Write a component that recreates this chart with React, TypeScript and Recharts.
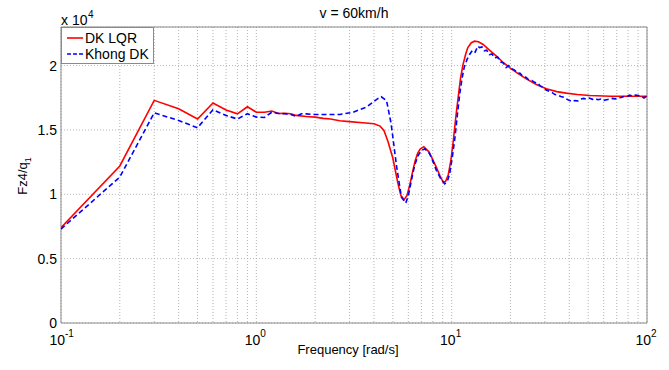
import React from "react";
import { LineChart, Line, XAxis, YAxis, CartesianGrid, ReferenceArea } from "recharts";

// Frequency [rad/s] and F/q values (x 10^4)
const lqrFreq = [
  0.1, 0.2, 0.3, 0.4, 0.5, 0.6, 0.7, 0.8, 0.9, 1.0, 1.1, 1.2, 1.3, 1.4, 1.5, 1.6, 1.8, 2.0,
  2.2, 2.4, 2.67, 3.0, 3.5, 4.0, 4.3, 4.5, 4.72, 5.0, 5.3, 5.5, 5.7, 5.9, 6.1, 6.3, 6.5,
  6.7, 6.9, 7.2, 7.65, 8.0, 8.35, 8.7, 9.03, 9.3, 9.6, 9.9, 10.2, 10.5, 10.8, 11.1, 11.4,
  11.8, 12.1, 12.6, 13.1, 13.7, 14.5, 15.6, 16.9, 18.2, 19.8, 21.8, 24.1, 27.0, 30.5, 34.5,
  38.6, 44.0, 50.9, 65, 80, 100,
];
const lqrValues = [
  0.74, 1.22, 1.73, 1.665, 1.585, 1.71, 1.655, 1.625, 1.68, 1.638, 1.638, 1.647, 1.628,
  1.63, 1.626, 1.613, 1.605, 1.6, 1.59, 1.585, 1.572, 1.565, 1.556, 1.548, 1.53, 1.496,
  1.41, 1.28, 1.09, 0.99, 0.958, 0.99, 1.07, 1.17, 1.26, 1.32, 1.352, 1.37, 1.33, 1.27,
  1.21, 1.145, 1.097, 1.1, 1.15, 1.26, 1.418, 1.6, 1.755, 1.9, 2.0, 2.09, 2.14, 2.178,
  2.19, 2.185, 2.164, 2.12, 2.075, 2.03, 1.985, 1.94, 1.897, 1.855, 1.82, 1.798, 1.786,
  1.776, 1.768, 1.762, 1.762, 1.762,
];

const khongFreq = [
  0.1, 0.2, 0.3, 0.4, 0.5, 0.6, 0.7, 0.8, 0.9, 1.0, 1.1, 1.2, 1.3, 1.4, 1.5, 1.6, 1.7, 1.8,
  2.0, 2.3, 2.67, 3.13, 3.66, 3.96, 4.2, 4.36, 4.64, 4.9, 5.22, 5.53, 5.82, 6.0, 6.22,
  6.45, 6.73, 7.0, 7.28, 7.71, 8.0, 8.35, 8.8, 9.21, 9.5, 9.77, 10.1, 10.4, 10.7, 11.0,
  11.3, 11.6, 12.0, 12.4, 12.8, 13.2, 13.6, 13.9, 14.3, 14.7, 15.1, 15.6, 16.1, 16.6, 17.2,
  17.8, 18.4, 19.0, 19.6, 20.3, 21.0, 21.7, 22.4, 23.2, 24.0, 24.8, 25.7, 26.6, 27.5, 28.5,
  29.5, 30.5, 31.6, 32.7, 33.8, 35.0, 36.2, 37.4, 38.7, 40.0, 41.4, 42.8, 44.3, 45.8, 47.4,
  49.0, 50.7, 52.5, 54.3, 56.2, 58.1, 60.1, 62.2, 64.3, 66.5, 68.8, 71.2, 73.7, 76.2, 78.8,
  81.5, 84.3, 87.2, 90.2, 93.3, 96.5, 100,
];
const khongValues = [
  0.73, 1.134, 1.633, 1.574, 1.517, 1.657, 1.613, 1.585, 1.626, 1.6, 1.597, 1.638, 1.628,
  1.626, 1.62, 1.605, 1.626, 1.625, 1.62, 1.62, 1.62, 1.638, 1.677, 1.716, 1.745, 1.758,
  1.729, 1.548, 1.22, 0.978, 0.932, 0.99, 1.108, 1.22, 1.302, 1.34, 1.354, 1.315, 1.26,
  1.186, 1.12, 1.082, 1.1, 1.16, 1.3, 1.444, 1.62, 1.781, 1.9, 1.988, 2.05, 2.09, 2.12,
  2.105, 2.15, 2.14, 2.145, 2.115, 2.12, 2.085, 2.09, 2.06, 2.065, 2.03, 2.02, 1.985, 2.0,
  1.975, 1.965, 1.945, 1.94, 1.915, 1.91, 1.89, 1.885, 1.87, 1.865, 1.84, 1.83, 1.81, 1.8,
  1.79, 1.775, 1.77, 1.76, 1.755, 1.74, 1.73, 1.72, 1.728, 1.725, 1.74, 1.745, 1.74, 1.748,
  1.738, 1.742, 1.735, 1.74, 1.73, 1.735, 1.74, 1.745, 1.742, 1.75, 1.752, 1.76, 1.758,
  1.77, 1.765, 1.772, 1.768, 1.762, 1.748, 1.765,
];

const xTicks = [
  0.1, 0.2, 0.3, 0.4, 0.5, 0.6, 0.7, 0.8, 0.9, 1, 2, 3, 4, 5, 6, 7, 8, 9, 10, 20, 30, 40,
  50, 60, 70, 80, 90, 100,
];
const decadeExp: Record<number, string> = { 0.1: "-1", 1: "0", 10: "1", 100: "2" };
const yTicks = [0, 0.5, 1, 1.5, 2];

const lqrData = lqrFreq.map((f, i) => ({ f, v: lqrValues[i] }));
const khongData = khongFreq.map((f, i) => ({ f, v: khongValues[i] }));

const FONT = "'Liberation Sans', Arial, sans-serif";

const XTick = (props: any) => {
  const { x, y, payload } = props;
  const exp = decadeExp[payload.value];
  if (exp === undefined) return <g />;
  return (
    <g fontFamily={FONT} fill="#000">
      <text x={x + 4} y={y + 14} textAnchor="end" fontSize={14}>10</text>
      <text x={x + 4} y={y + 6} textAnchor="start" fontSize={10}>{exp}</text>
    </g>
  );
};

export default function App() {
  return (
    <div style={{ position: "absolute", left: 0, top: 0, width: 669, height: 370, background: "#fff" }}>
      <LineChart width={669} height={370} margin={{ top: 27, right: 22, bottom: 0, left: 0 }}>
        <CartesianGrid stroke="#b4b4b4" strokeDasharray="1 2" />
        <XAxis
          dataKey="f"
          type="number"
          scale="log"
          domain={[0.1, 100]}
          ticks={xTicks}
          interval={0}
          height={47}
          axisLine={false}
          tickLine={false}
          tick={<XTick />}
          allowDataOverflow
        />
        <YAxis
          type="number"
          domain={[0, 2.3]}
          ticks={yTicks}
          width={61}
          axisLine={false}
          tickLine={false}
          tickSize={0}
          tickMargin={4}
          tick={{ fill: "#000", fontSize: 14, fontFamily: FONT }}
        />
        <ReferenceArea x1={0.1} x2={100} y1={0} y2={2.3} fill="none" stroke="#8a8a8a" strokeWidth={1} />
        <Line data={lqrData} dataKey="v" type="linear" stroke="#ff0000" strokeWidth={1.6} dot={false} isAnimationActive={false} />
        <Line data={khongData} dataKey="v" type="linear" stroke="#0000ff" strokeWidth={1.6} strokeDasharray="5 3" dot={false} isAnimationActive={false} />
      </LineChart>

      <svg width={669} height={370} style={{ position: "absolute", left: 0, top: 0, pointerEvents: "none" }} fontFamily={FONT}>
        <text x={354} y={18} textAnchor="middle" fontSize={14}>v = 60km/h</text>
        <text x={61} y={25} fontSize={14}>x 10</text>
        <text x={88} y={18} fontSize={10}>4</text>
        <text x={348} y={354} textAnchor="middle" fontSize={13}>Frequency [rad/s]</text>
        <text transform="translate(27,176) rotate(-90)" textAnchor="middle" fontSize={13}>
          Fz4/q<tspan fontSize={9} dy={4}>1</tspan>
        </text>
      </svg>

      <div style={{ position: "absolute", left: 61, top: 27, width: 93, height: 37, background: "#fff", border: "1px solid #8a8a8a", boxSizing: "border-box", fontFamily: FONT }}>
        <svg width={93} height={37} style={{ position: "absolute", left: 0, top: 0 }}>
          <line x1={5} x2={21} y1={10} y2={10} stroke="#ff0000" strokeWidth={1.6} />
          <line x1={5} x2={21} y1={26} y2={26} stroke="#0000ff" strokeWidth={1.6} strokeDasharray="4 2" />
          <text x={23} y={15} fontSize={14} fontFamily={FONT}>DK LQR</text>
          <text x={23} y={31} fontSize={14} fontFamily={FONT}>Khong DK</text>
        </svg>
      </div>
    </div>
  );
}
